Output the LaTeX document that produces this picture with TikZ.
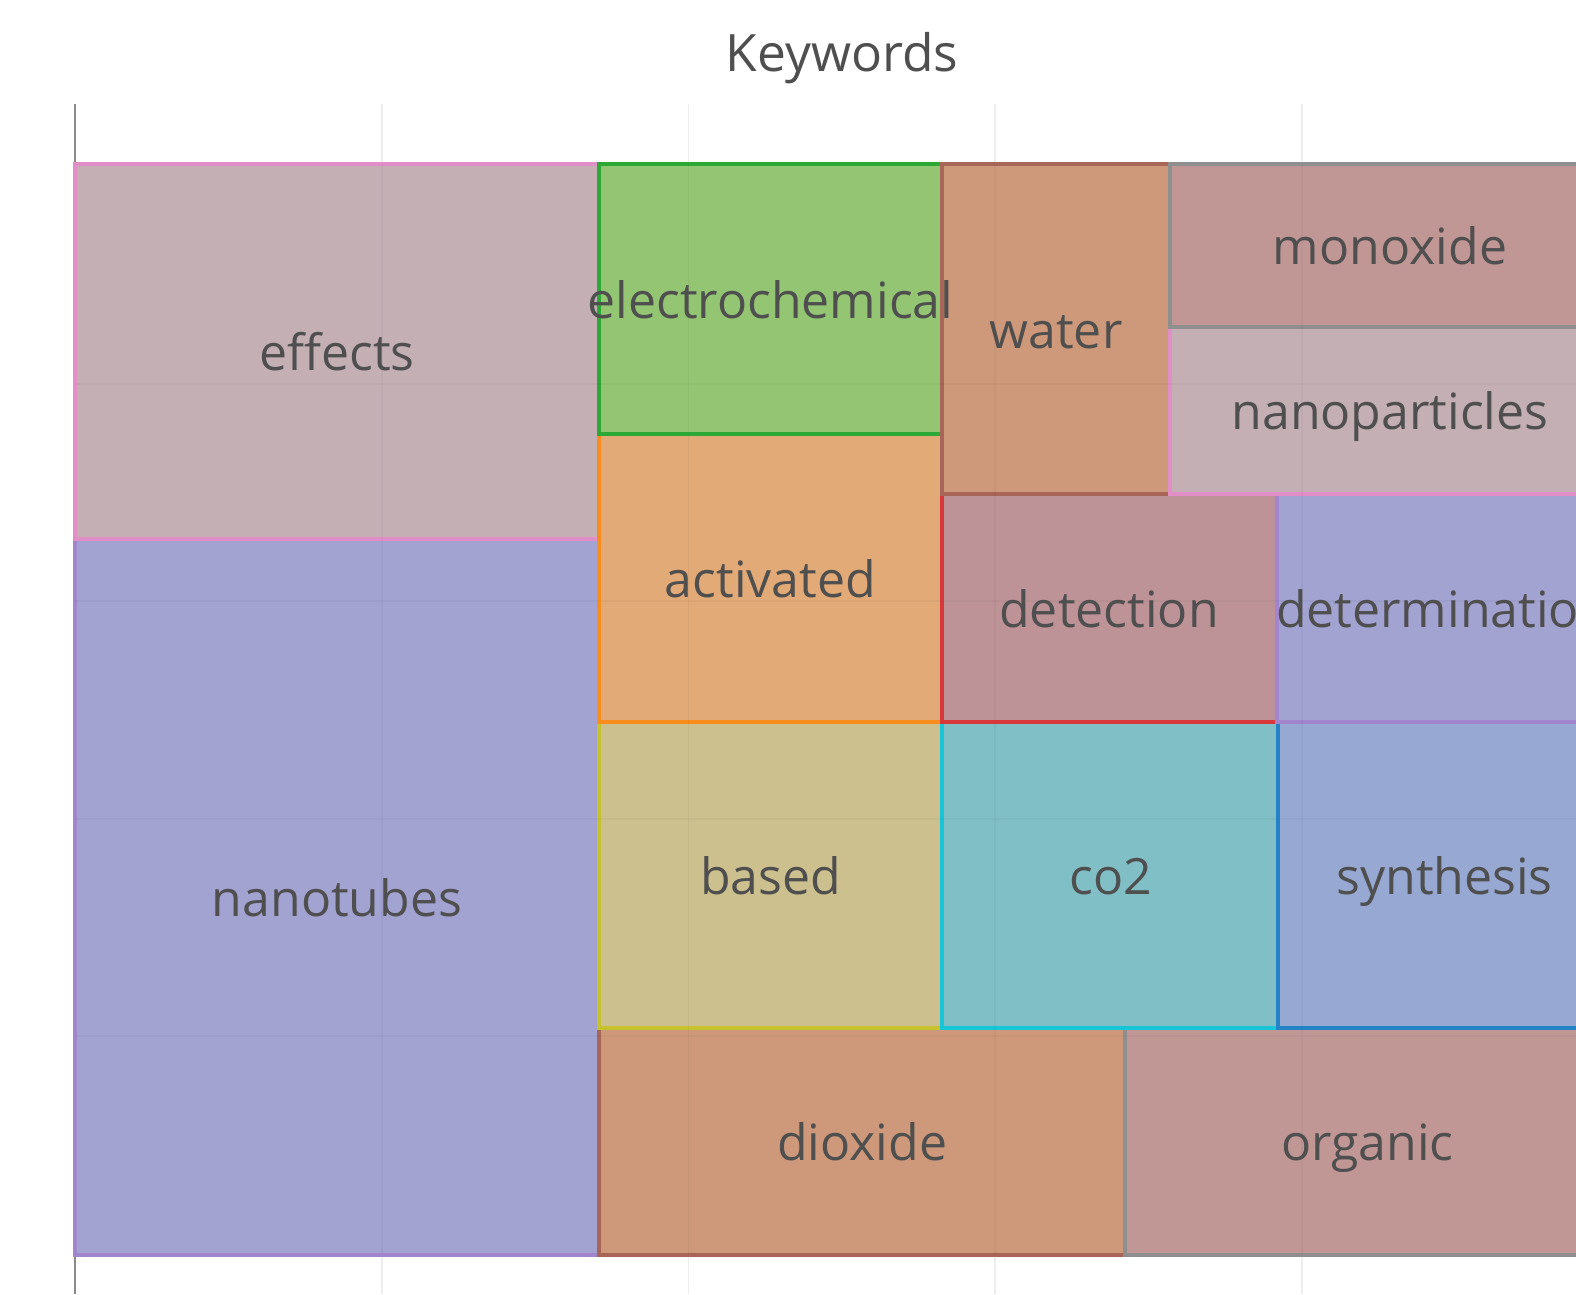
\documentclass[tikz,border=0pt]{standalone}
\usepackage{fontspec}
\newfontfamily\plotfont{Open Sans}
\usepackage{tikz}

\definecolor{labelgray}{HTML}{4F4F4F}
\definecolor{axisgray}{HTML}{8A8A8A}
\definecolor{gridgray}{HTML}{EEEEEE}
\definecolor{pinkline}{HTML}{E28FC8}
\definecolor{pinkfill}{HTML}{C4AFB5}
\definecolor{purpleline}{HTML}{A286CD}
\definecolor{purplefill}{HTML}{A2A3D1}
\definecolor{greenline}{HTML}{2CA836}
\definecolor{greenfill}{HTML}{93C572}
\definecolor{orangeline}{HTML}{F98D1B}
\definecolor{orangefill}{HTML}{E2AA76}
\definecolor{oliveline}{HTML}{C6C22C}
\definecolor{olivefill}{HTML}{CDC08F}
\definecolor{brownline}{HTML}{A76658}
\definecolor{brownfill}{HTML}{CE997A}
\definecolor{grayline}{HTML}{8F8F8F}
\definecolor{grayfill}{HTML}{C19796}
\definecolor{redline}{HTML}{D8383A}
\definecolor{redfill}{HTML}{BD9397}
\definecolor{cyanline}{HTML}{17C6D6}
\definecolor{cyanfill}{HTML}{80BFC6}
\definecolor{blueline}{HTML}{2383C6}
\definecolor{bluefill}{HTML}{97A8D2}

\begin{document}
\begin{tikzpicture}[x=1pt, y=-1pt,
	tile/.style={line width=4pt, line join=miter},
	lbl/.style={anchor=base, inner sep=0pt, text=labelgray, font=\plotfont\fontsize{50}{60}\selectfont},
	gridline/.style={draw=gridgray, line width=1.5pt}]
	\useasboundingbox (0,0) rectangle (1576,1294);
	\clip (0,0) rectangle (1576,1294);

	\node (title) [lbl, font=\plotfont\fontsize{51.5}{60}\selectfont] at (842,71) {Keywords};

	\foreach \x in {382,688.5,995,1302}
		\draw [gridline] (\x,104) -- (\x,1294);
	\draw [line width=2pt, axisgray] (75,104) -- (75,1294);

	% tiles, biggest first
	\draw [tile, draw=purpleline, fill=purplefill] (75,539) rectangle (599,1255);
	\draw [tile, draw=pinkline, fill=pinkfill] (75,164) rectangle (599,539);
	\draw [tile, draw=brownline, fill=brownfill] (599,1028) rectangle (1125,1255);
	\draw [tile, draw=grayline, fill=grayfill] (1125,1028) rectangle (1610,1255);
	\draw [tile, draw=oliveline, fill=olivefill] (599,722) rectangle (942,1028);
	\draw [tile, draw=orangeline, fill=orangefill] (599,434) rectangle (942,722);
	\draw [tile, draw=cyanline, fill=cyanfill] (942,722) rectangle (1278,1028);
	\draw [tile, draw=blueline, fill=bluefill] (1278,722) rectangle (1610,1028);
	\draw [tile, draw=greenline, fill=greenfill] (599,164) rectangle (942,434);
	\draw [tile, draw=redline, fill=redfill] (942,494) rectangle (1277,722);
	\draw [tile, draw=purpleline, fill=purplefill] (1277,494) rectangle (1610,722);
	\draw [tile, draw=brownline, fill=brownfill] (942,164) rectangle (1170,494);
	\draw [tile, draw=pinkline, fill=pinkfill] (1170,327) rectangle (1610,494);
	\draw [tile, draw=grayline, fill=grayfill] (1170,164) rectangle (1610,327);

	% faint grid seen through the tiles
	\foreach \x in {382,688.5,995,1302}
		\draw [black, opacity=0.03, line width=1.5pt] (\x,164) -- (\x,1255);
	\foreach \y in {384,601,819,1036}
		\draw [black, opacity=0.03, line width=1.5pt] (75,\y) -- (1610,\y);

	\node (effects) [lbl] at (337,370.5) {effects};
	\node (nanotubes) [lbl] at (337,916) {nanotubes};
	\node (electrochemical) [lbl] at (770.5,318) {electrochemical};
	\node (activated) [lbl] at (770.5,597) {activated};
	\node (based) [lbl] at (770.5,894) {based};
	\node (dioxide) [lbl] at (862,1160.5) {dioxide};
	\node (organic) [lbl] at (1367.5,1160.5) {organic};
	\node (water) [lbl] at (1056,348) {water};
	\node (monoxide) [lbl] at (1390,264.5) {monoxide};
	\node (nanoparticles) [lbl] at (1390,429.5) {nanoparticles};
	\node (detection) [lbl] at (1109,627) {detection};
	\node (determination) [lbl] at (1443,627) {determination};
	\node (co2) [lbl] at (1111,894) {co2};
	\node (synthesis) [lbl] at (1444.5,894) {synthesis};
\end{tikzpicture}
\end{document}
